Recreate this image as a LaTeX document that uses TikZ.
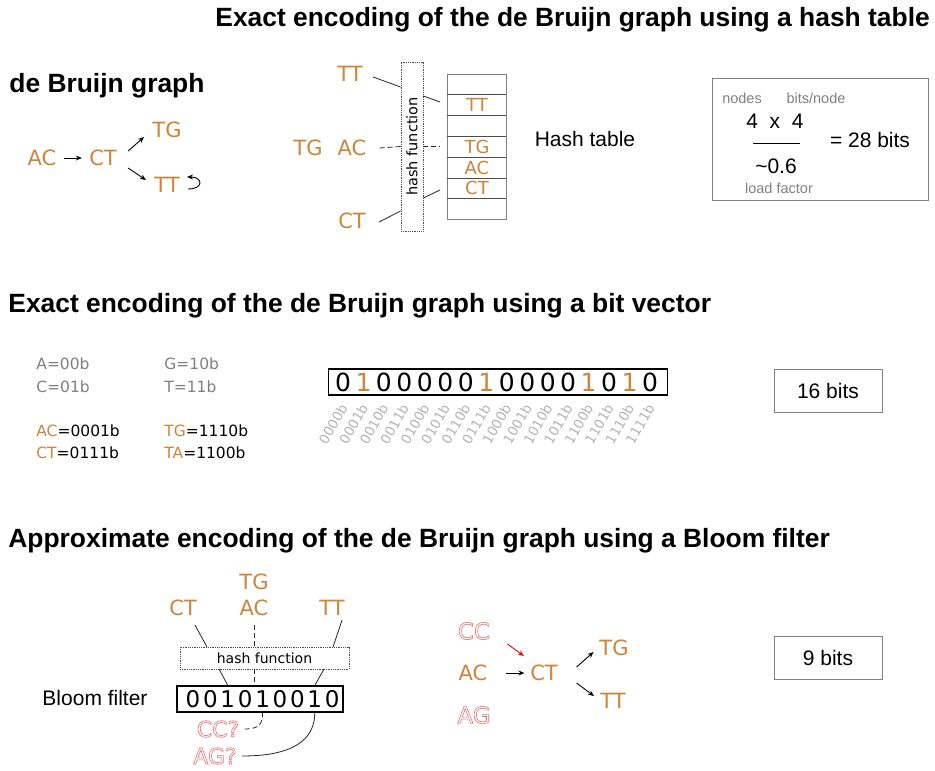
\documentclass[tikz,border=0pt]{standalone}
\usepackage{fontspec}
\setmainfont{Liberation Sans}
\newfontfamily\vf{DejaVu Sans}
\usetikzlibrary{arrows.meta}
\definecolor{orng}{RGB}{204,133,58}
\definecolor{pinkout}{RGB}{232,110,110}
\definecolor{gry}{RGB}{128,128,128}
\definecolor{lgry}{RGB}{180,180,180}
\newcommand\outl[1]{\special{pdf:literal direct 1 Tr 0.6 w}#1\special{pdf:literal direct 0 Tr 0.8 w}}
\begin{document}
\begin{tikzpicture}[x=1pt,y=-1pt,line width=0.8pt,
  ttl/.style={font=\fontsize{26.4}{30}\selectfont\bfseries,inner sep=0,anchor=west},
  lab/.style={text=orng,font=\vf\fontsize{21}{24}\selectfont,inner sep=0},
  slab/.style={text=orng,font=\vf\fontsize{18}{20}\selectfont,inner sep=0},
  ar/.style={font=\fontsize{21}{24}\selectfont,inner sep=0},
  sgr/.style={text=gry,font=\fontsize{14.5}{16}\selectfont,inner sep=0},
  code/.style={font=\vf\fontsize{15.5}{18}\selectfont,inner sep=0,anchor=west},
  arr/.style={-{Stealth[length=6pt,width=5pt]},line width=0.9pt},
  conn/.style={black!85,line width=0.8pt},
  dsh/.style={dash pattern=on 5pt off 3pt},
  hbox/.style={draw=black!70,densely dotted,line width=0.8pt,inner sep=0},
  outtxt/.style={text=pinkout,font=\vf\fontsize{23}{26}\selectfont,inner sep=0}]
\useasboundingbox[fill=white] (0,0) rectangle (935,771);

% ---------- Section 1 ----------
\node[ttl] (t1) at (215,20) {Exact encoding of the de Bruijn graph using a hash table};
\node[ttl] (g1) at (9,86) {de Bruijn graph};

\node[lab] (ac1) at (42,158) {AC};
\node[lab] (ct1) at (103,158) {CT};
\node[lab] (tg1) at (167,130) {TG};
\node[lab] (tt1) at (167,185) {TT};
\draw[arr] ([xshift=7]ac1.east) -- ([xshift=-7]ct1.west);
\draw[arr] ([shift={(11,-7)}]ct1.east) -- ([shift={(-8,7)}]tg1.west);
\draw[arr] ([shift={(11,10)}]ct1.east) -- ([shift={(-8,-5)}]tt1.west);
\draw[arr] ([shift={(8,4)}]tt1.east) .. controls +(16,0) and +(16,0) .. ([shift={(7,-8)}]tt1.east);

% hash table
\node[lab] (htt) at (350,74) {TT};
\node[lab] (htg) at (308,148) {TG};
\node[lab] (hac) at (352,148) {AC};
\node[lab] (hct) at (352,221) {CT};
\node[hbox,minimum width=22,minimum height=169] (hf) at (412,146.5) {};
\node[rotate=90,font=\vf\fontsize{14.5}{16}\selectfont] (hft) at (hf) {hash function};
\node[draw=gry,minimum width=59,minimum height=145.6,inner sep=0] (tab) at (476.5,146.8) {};
\foreach \yy in {94.8,115.6,136.4,157.2,178,198.8}
  \draw[black!70,line width=0.9pt] (tab.west |- 0,\yy) -- (tab.east |- 0,\yy);
\node[slab] (r1) at (477,105) {TT};
\node[slab] (r3) at (477,147) {TG};
\node[slab] (r4) at (477,167.5) {AC};
\node[slab] (r5) at (477,188) {CT};
\coordinate (tl) at (440,0);
\draw[conn] ([shift={(10,3)}]htt.east) -- (hf.west |- 0,87);
\draw[conn,dsh] ([xshift=13]hac.east) -- (hf.west);
\draw[conn] ([shift={(13,1)}]hct.east) -- (hf.west |- 0,211);
\draw[conn] (hf.east |- 0,96) -- (tl |- 0,102);
\draw[conn,dsh] (hf.east) -- (tl |- hf.east);
\draw[conn] (hf.east |- 0,198) -- (tl |- 0,190);
\node[ar] (ht) at (585,139) {Hash table};

\node[draw=gry,minimum width=216,minimum height=122,inner sep=0] (box1) at (820,139) {};
\node[sgr] (nd) at (742,98) {nodes};
\node[sgr] (bn) at (816,98) {bits/node};
\node[ar] (num) at (775,121) {4\ \ x\ \ 4};
\node[ar] (den) at (776,166) {\textasciitilde0.6};
\draw[black,line width=0.9pt] (753,143) -- (800,143);
\node[sgr] (lf) at (779,188) {load factor};
\node[ar] (res) at (870,140) {= 28 bits};

% ---------- Section 2 ----------
\node[ttl] (t2) at (8,306) {Exact encoding of the de Bruijn graph using a bit vector};
\node[code,text=gry] (ca) at (36,364) {A=00b};
\node[code,text=gry] (cc) at (36,387) {C=01b};
\node[code,text=gry] (cg) at (164,364) {G=10b};
\node[code,text=gry] (ct) at (164,387) {T=11b};
\node[code] (cac) at (36,431) {\textcolor{orng}{AC}=0001b};
\node[code] (cct) at (36,453) {\textcolor{orng}{CT}=0111b};
\node[code] (ctg) at (164,431) {\textcolor{orng}{TG}=1110b};
\node[code] (cta) at (164,453) {\textcolor{orng}{TA}=1100b};

\node[draw=black,line width=1.6pt,minimum width=339,minimum height=26,inner sep=0] (bv) at (498,382) {};
\foreach \b/\c [count=\i from 0] in {0/black,1/orng,0/black,0/black,0/black,0/black,0/black,1/orng,0/black,0/black,0/black,0/black,1/orng,0/black,1/orng,0/black}
  \node[text=\c,font=\vf\fontsize{25}{28}\selectfont,inner sep=0] (d\i) at (343+20.47*\i,382) {\b};
\foreach \l [count=\i from 0] in {0000b,0001b,0010b,0011b,0100b,0101b,0110b,0111b,1000b,1001b,1010b,1011b,1100b,1101b,1110b,1111b}
  \node[text=lgry,font=\vf\fontsize{13.5}{15}\selectfont,inner sep=0,rotate=60] (l\i) at (333+20.47*\i,424) {\l};
\node[draw=gry,minimum width=108,minimum height=43,inner sep=0,font=\fontsize{21}{24}\selectfont] (b16) at (828,390.5) {16 bits};

% ---------- Section 3 ----------
\node[ttl] (t3) at (8,541) {Approximate encoding of the de Bruijn graph using a Bloom filter};
\node[lab] (tg3) at (254,582) {TG};
\node[lab] (ct3) at (183,608) {CT};
\node[lab] (ac3) at (254,608) {AC};
\node[lab] (tt3) at (332,608) {TT};
\node[hbox,minimum width=169,minimum height=22,font=\vf\fontsize{14}{16}\selectfont] (hf2) at (264.5,658) {hash function};
\node[draw=black,line width=1.2pt,minimum width=166,minimum height=26,inner sep=0] (bf) at (260,699) {};
\foreach \b [count=\i from 0] in {0,0,1,0,1,0,0,1,0}
  \node[font=\vf\fontsize{23}{26}\selectfont,inner sep=0] (e\i) at (193+17.4*\i,699) {\b};
\node[ar] (bfl) at (95,698) {Bloom filter};
\draw[conn] (195,625) -- (207,647);
\draw[conn] (219,669) -- (e2.south |- bf.north);
\draw[conn,dsh] (ac3.south |- 0,625) -- (ac3.south |- hf2.north);
\draw[conn,dsh] (ac3.south |- hf2.south) -- (ac3.south |- bf.north);
\draw[conn] (342,620) -- (333,647);
\draw[conn] (324,669) -- (e7.south |- bf.north);

\node[outtxt,font=\vf\fontsize{22}{24}\selectfont] (ccq) at (218,729) {\outl{CC?}};
\node[outtxt,font=\vf\fontsize{22}{24}\selectfont] (agq) at (215,756) {\outl{AG?}};
\draw[conn,dsh] ([xshift=5]ccq.east) .. controls +(15,0) and +(0,11) .. (e4.south |- bf.south);
\draw[conn] ([xshift=5]agq.east) .. controls +(50,0) and +(0,28) .. (e7.south |- bf.south);

% right graph
\node[outtxt] (cc2) at (474,631) {\outl{CC}};
\node[lab] (ac2) at (473,673) {AC};
\node[outtxt] (ag2) at (474,715) {\outl{AG}};
\node[lab] (ct2) at (544,673) {CT};
\node[lab] (tg2) at (614,648) {TG};
\node[lab] (tt2) at (613,701) {TT};
\draw[arr,red] ([shift={(17,13)}]cc2.east) -- ([shift={(-6,-17)}]ct2.west);
\draw[arr] ([xshift=18.5]ac2.east) -- ([xshift=-5.5]ct2.west);
\draw[arr] ([shift={(18.5,-6)}]ct2.east) -- ([shift={(-5.5,4)}]tg2.west);
\draw[arr] ([shift={(18.5,10)}]ct2.east) -- ([shift={(-6,-5)}]tt2.west);
\node[draw=gry,minimum width=108,minimum height=43,inner sep=0,font=\fontsize{21}{24}\selectfont] (b9) at (828,657.5) {9 bits};
\end{tikzpicture}
\end{document}
